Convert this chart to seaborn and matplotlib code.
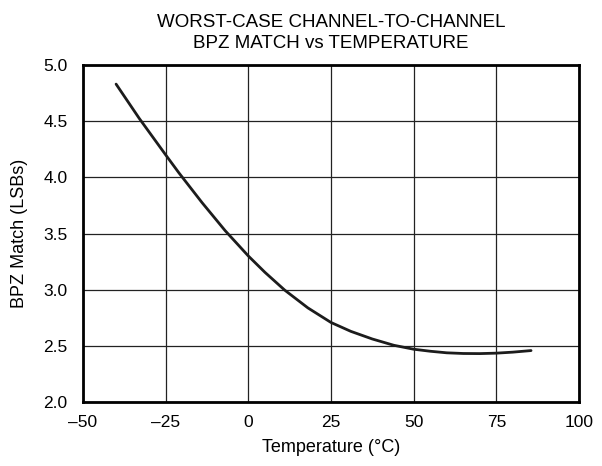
import matplotlib
matplotlib.use("Agg")
import matplotlib.pyplot as plt
import seaborn as sns
import pandas as pd

temperature = [-40, -33, -25, -21, -14, -7, 0, 5, 11, 18, 25, 31, 37.5, 44, 50, 55, 60, 65, 70, 75, 80, 85.5]
bpz_match = [4.83, 4.525, 4.2, 4.04, 3.775, 3.525, 3.3, 3.155, 2.996, 2.838, 2.708, 2.629, 2.561, 2.505, 2.47, 2.452, 2.438, 2.432, 2.431, 2.435, 2.444, 2.458]
x_ticks = [-50, -25, 0, 25, 50, 75, 100]
x_tick_labels = ["\u201350", "\u201325", "0", "25", "50", "75", "100"]
y_ticks = [2.0, 2.5, 3.0, 3.5, 4.0, 4.5, 5.0]
y_tick_labels = ["2.0", "2.5", "3.0", "3.5", "4.0", "4.5", "5.0"]

sns.set_theme(style="white")
plt.rcParams['font.family'] = ['Liberation Sans', 'DejaVu Sans']
plt.rcParams['text.color'] = 'black'
plt.rcParams['axes.labelcolor'] = 'black'

df = pd.DataFrame({"Temperature": temperature, "BPZ": bpz_match})

fig = plt.figure(figsize=(6.02, 4.66), dpi=100)
ax = fig.add_axes([0.1379, 0.1373, 0.8239, 0.7232])
sns.lineplot(data=df, x="Temperature", y="BPZ", ax=ax, color="#1c1c1c", linewidth=2.0)

ax.set_xlim(-50, 100)
ax.set_ylim(2.0, 5.0)
ax.set_xticks(x_ticks)
ax.set_xticklabels(x_tick_labels, fontsize=12.5)
ax.set_yticks(y_ticks)
ax.set_yticklabels(y_tick_labels, fontsize=12.5)
ax.grid(True, color="#222222", linewidth=0.9)
ax.set_axisbelow(True)
for s in ax.spines.values():
    s.set_linewidth(2)
    s.set_color("black")
ax.tick_params(axis='both', length=0, colors="black")
ax.tick_params(axis='x', pad=9)
ax.tick_params(axis='y', pad=11)
ax.set_xlabel("Temperature (\u00b0C)", fontsize=13, labelpad=7)
ax.set_ylabel("BPZ Match (LSBs)", fontsize=13, labelpad=11)
ax.set_title("WORST-CASE CHANNEL-TO-CHANNEL\nBPZ MATCH vs TEMPERATURE", fontsize=13.5, pad=12, linespacing=1.35)

fig.savefig("out.png", dpi=100)
